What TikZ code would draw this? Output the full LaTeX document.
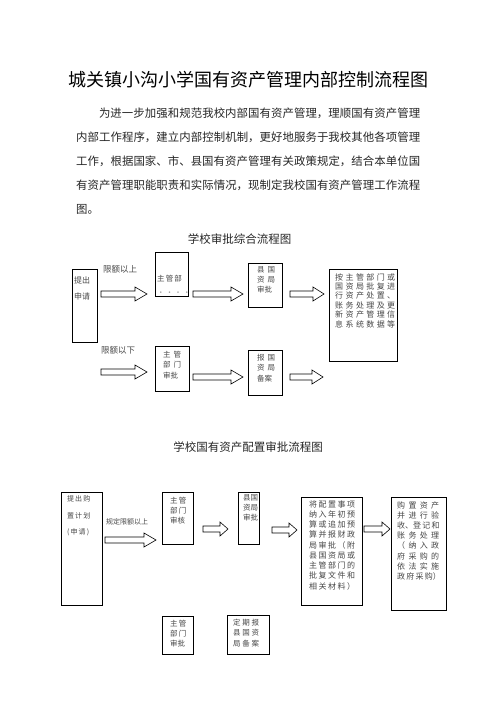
\documentclass[tikz,border=0pt]{standalone}
\usepackage{fontspec}
\setmainfont{Noto Sans CJK SC}
\newcommand{\spreadline}[2]{\makebox[#1][s]{#2}}

\begin{document}
\begin{tikzpicture}[
        x=1pt, y=-1pt,
        box/.style={draw, line width=0.7pt, inner sep=0pt, anchor=north west},% frame of a step
        boxtxt/.style={inner sep=0pt, anchor=north west, align=left, text=black!72},% text in a frame
        lbl/.style={inner sep=0pt, anchor=base west, text=black!72},% text over an arrow
        heading/.style={inner sep=0pt, anchor=base, text=black!85, font=\fontsize{11.5}{14}\selectfont},
        pics/blkarrow/.style args={#1/#2}{code={
            \draw[line width=0.6pt, fill=white] (0,-3) -- (#1-#2,-3) -- (#1-#2,-7) -- (#1,0)
                -- (#1-#2,7) -- (#1-#2,3) -- (0,3) -- cycle;
        }},
    ]
    \useasboundingbox[fill=white] (0,0) rectangle (496,702);

    % title and introduction
    \node[inner sep=0pt, anchor=base, font=\fontsize{18}{22}\selectfont] (title) at (248,86.8)
        {城关镇小沟小学国有资产管理内部控制流程图};
    \node[inner sep=0pt, anchor=north west, text width=344pt, align=justify, text=black!85,
          font=\fontsize{11.4}{24.1}\selectfont] (intro) at (76,107.6)
        {\XeTeXlinebreaklocale "zh"\XeTeXlinebreakskip=0pt plus 1pt%
         \hspace*{2em}为进一步加强和规范我校内部国有资产管理，理顺国有资产管理\linebreak
         内部工作程序，建立内部控制机制，更好地服务于我校其他各项管理\linebreak
         工作，根据国家、市、县国有资产管理有关政策规定，结合本单位国\linebreak
         有资产管理职能职责和实际情况，现制定我校国有资产管理工作流程\linebreak
         图。};

    % first chart
    \node[heading] (head1) at (239.7,243.7) {学校审批综合流程图};

    \node[box, minimum width=25pt, minimum height=73pt] (apply) at (72,269) {};
    \node[box, minimum width=33pt, minimum height=44pt] (dept1) at (155,252) {};
    \node[box, minimum width=34pt, minimum height=44pt] (county1) at (248,263) {};
    \node[box, minimum width=68pt, minimum height=92pt] (handle) at (329,269) {};
    \node[box, minimum width=34pt, minimum height=45pt] (dept2) at (155,346) {};
    \node[box, minimum width=34pt, minimum height=45pt] (record1) at (248,350) {};

    \node[boxtxt, font=\fontsize{8}{16}\selectfont] (applytxt) at (74,276.2) {提出\\申请};
    \node[boxtxt, font=\fontsize{7.5}{14.5}\selectfont] (dept1txt) at (157,274.5)
        {\spreadline{22pt}{主 管 部}\\\textcolor{black!40}{\spreadline{22pt}{· · · ·}}};
    \node[boxtxt, font=\fontsize{7.5}{10}\selectfont] (county1txt) at (257,266.5)
        {\spreadline{18pt}{县 国}\\\spreadline{18pt}{资 局}\\审批};
    \node[boxtxt, font=\fontsize{8}{9.4}\selectfont] (handletxt) at (335,273.2)
        {\spreadline{60pt}{按 主 管 部 门 或}\\
         \spreadline{60pt}{国 资 局 批 复 进}\\
         \spreadline{60pt}{行 资 产 处 置 、}\\
         \spreadline{60pt}{账 务 处 理 及 更}\\
         \spreadline{60pt}{新 资 产 管 理 信}\\
         \spreadline{60pt}{息 系 统 数 据 等}};
    \node[boxtxt, font=\fontsize{7.5}{10.5}\selectfont] (dept2txt) at (163,350.5)
        {\spreadline{18pt}{主 管}\\\spreadline{18pt}{部 门}\\审批};
    \node[boxtxt, font=\fontsize{7.5}{10.5}\selectfont] (record1txt) at (257,353.5)
        {\spreadline{18pt}{报 国}\\\spreadline{18pt}{资 局}\\备案};

    \node[lbl, font=\fontsize{8.5}{10}\selectfont] (above) at (103,272.2) {限额以上};
    \node[lbl, font=\fontsize{8.5}{10}\selectfont] (below) at (101,353.2) {限额以下};

    \pic at (101,294) {blkarrow=46/12};
    \pic at (193,294) {blkarrow=50/12};
    \pic at (290,294) {blkarrow=34/11};
    \pic at (101,372) {blkarrow=46/12};
    \pic at (193,377) {blkarrow=50/12};
    \pic at (290,377) {blkarrow=33/11};

    % second chart
    \node[heading] (head2) at (248,451.4) {学校国有资产配置审批流程图};

    \node[box, minimum width=41pt, minimum height=113pt] (plan) at (61,492) {};
    \node[box, minimum width=31pt, minimum height=52pt] (check) at (162,492) {};
    \node[box, minimum width=21pt, minimum height=52pt] (county2) at (238,492) {};
    \node[box, minimum width=61pt, minimum height=108pt] (budget) at (301,497) {};
    \node[box, minimum width=55pt, minimum height=113pt] (purchase) at (391,497) {};
    \node[box, minimum width=31pt, minimum height=38pt] (dept3) at (162,616) {};
    \node[box, minimum width=42pt, minimum height=39pt] (record2) at (227,615) {};

    \node[boxtxt, font=\fontsize{7}{16.5}\selectfont] (plantxt) at (67,495.7)
        {\spreadline{21pt}{提 出 购}\\\spreadline{21pt}{置 计 划}\\\spreadline{22pt}{( 申 请 )}};
    \node[boxtxt, font=\fontsize{7.5}{10}\selectfont] (checktxt) at (170,496.5)
        {\spreadline{16pt}{主 管}\\\spreadline{16pt}{部 门}\\审核};
    \node[boxtxt, font=\fontsize{7.5}{10}\selectfont] (county2txt) at (243,494.5)
        {县国\\资局\\审批};
    \node[boxtxt, font=\fontsize{8}{10.25}\selectfont] (budgettxt) at (309,500.2)
        {\spreadline{46pt}{将 配 置 事 项}\\
         \spreadline{46pt}{纳 入 年 初 预}\\
         \spreadline{46pt}{算 或 追 加 预}\\
         \spreadline{46pt}{算 并 报 财 政}\\
         \spreadline{46pt}{局 审 批 （ 附}\\
         \spreadline{46pt}{县 国 资 局 或}\\
         \spreadline{46pt}{主 管 部 门 的}\\
         \spreadline{46pt}{批 复 文 件 和}\\
         \spreadline{46pt}{相 关 材 料 ）}};
    \node[boxtxt, font=\fontsize{8}{10.2}\selectfont] (purchasetxt) at (397,501.2)
        {\spreadline{42pt}{购 置 资 产}\\
         \spreadline{42pt}{并 进 行 验}\\
         \spreadline{42pt}{收、登 记 和}\\
         \spreadline{42pt}{账 务 处 理}\\
         \spreadline{42pt}{（ 纳 入 政}\\
         \spreadline{42pt}{府 采 购 的}\\
         \spreadline{42pt}{依 法 实 施}\\
         \spreadline{42pt}{政 府 采 购）}};
    \node[boxtxt, font=\fontsize{7.5}{10}\selectfont] (dept3txt) at (170,619.5)
        {\spreadline{16pt}{主 管}\\\spreadline{16pt}{部 门}\\审批};
    \node[boxtxt, font=\fontsize{7.5}{10.5}\selectfont] (record2txt) at (233,618.5)
        {\spreadline{26pt}{定 期 报}\\\spreadline{26pt}{县 国 资}\\\spreadline{26pt}{局 备 案}};

    \node[lbl, font=\fontsize{7}{9}\selectfont] (limit) at (106,524.7) {规定限额以上};

    \pic at (105,540) {blkarrow=51/12};
    \pic at (203,529) {blkarrow=25/8};
    \pic at (272,530) {blkarrow=25/8};
    \pic at (364,529) {blkarrow=26/8};
\end{tikzpicture}
\end{document}
